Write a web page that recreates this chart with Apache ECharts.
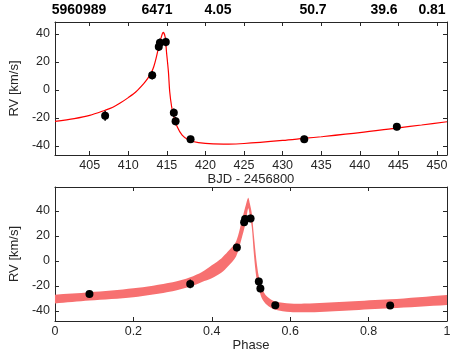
<!DOCTYPE html>
<html>
<head>
<meta charset="utf-8">
<script src="https://cdn.jsdelivr.net/npm/echarts@6/dist/echarts.min.js"></script>
<style>
  html, body { margin: 0; padding: 0; background: #fff; }
  #chart { width: 471px; height: 353px; }
</style>
</head>
<body>
<div id="chart"></div>
<script>
// header numbers above the top panel
const headerValues = ['5960989', '6471', '4.05', '50.7', '39.6', '0.81'];

// tick labels
const bjdTicks = [405, 410, 415, 420, 425, 430, 435, 440, 445, 450];
const rvTicks = [-40, -20, 0, 20, 40];
const phaseTicks = [0, 0.2, 0.4, 0.6, 0.8, 1];

// observed RV (time domain)
const bjdObs = [407.0, 413.1, 413.95, 414.1, 414.86, 415.9, 416.13, 418.07, 432.8, 444.8];
const rvObs = [-18.4, 10.5, 30.8, 33.6, 34.2, -16.3, -22.3, -35.2, -35.2, -26.2];
const rvErr = [3.5, 3, 3, 3, 3, 3, 3, 2.5, 2.5, 2.5];

// observed RV (phase folded)
const phaseObs = [0.088, 0.345, 0.464, 0.4825, 0.485, 0.499, 0.52, 0.524, 0.562, 0.855];
const rvPhaseObs = [-26.4, -18.4, 10.6, 30.9, 33.4, 33.9, -16.5, -22.0, -35.4, -35.7];
const rvPhaseErr = [2.5, 3.5, 3, 3, 3, 3, 3, 3, 2.5, 2.5];

// best-fit curve
const modelBjd = [400.5, 403, 405, 407, 408, 409, 410, 411, 412, 412.5, 413, 413.3, 413.6, 414.0, 414.27, 414.52,
  414.77, 414.95, 415.2, 415.37, 415.62, 415.9, 416.34, 416.98, 417.82, 419.1, 421, 423, 425, 430, 433, 435, 440, 445, 448, 451.3];
const modelRv = [-22.5, -20.5, -18.2, -14.5, -12.4, -9.2, -5.5, -1.3, 4.5, 8.0, 12.5, 16.5, 22.5, 32.0, 37.4, 41.0,
  37.9, 27.2, 13.0, -1.3, -12.0, -19.0, -26.2, -32.2, -35.7, -37.6, -38.5, -38.6, -38.2, -36.0, -34.4, -33.4, -30.5, -27.0, -25.0, -22.7];

// posterior band
const bandPhase = [0, 0.088, 0.2, 0.3, 0.345, 0.375, 0.4, 0.425, 0.441, 0.462, 0.478, 0.487, 0.493, 0.497, 0.502,
  0.5075, 0.514, 0.52, 0.528, 0.541, 0.562, 0.6, 0.65, 0.7, 0.75, 0.855, 1];
const bandLow = [-34.0, -31.7, -29.1, -24.3, -20.5, -16.8, -13.9, -9.3, -4.5, 3.5, 20.0, 31.5, 42.0, 36.0, 27.0,
  5.0, -14.0, -22.0, -30.0, -35.2, -39.0, -40.8, -41.0, -40.4, -39.6, -37.9, -35.2];
const bandHigh = [-27.0, -25.1, -21.9, -17.0, -13.0, -8.8, -3.5, 2.2, 7.4, 15.5, 34.0, 44.8, 50.5, 46.0, 38.0,
  20.0, 0.0, -12.5, -22.0, -28.5, -32.5, -34.0, -34.0, -33.3, -32.4, -30.7, -27.2];

const axisColor = '#262626';
const font = 'Liberation Sans, Helvetica, Arial, sans-serif';

function zip(a, b) { return a.map((v, i) => [v, b[i]]); }
function zip3(a, b, c) { return a.map((v, i) => [v, b[i], c[i]]); }

function errBar(params, api) {
  const x = api.value(0), y = api.value(1), e = api.value(2);
  const p1 = api.coord([x, y - e]);
  const p2 = api.coord([x, y + e]);
  return {
    type: 'line',
    shape: { x1: p1[0], y1: p1[1], x2: p2[0], y2: p2[1] },
    style: { stroke: '#000', lineWidth: 1.5 }
  };
}

// whole band drawn once, as one smoothed polygon (lower edge out, upper edge back)
function bandShape(params, api) {
  if (params.dataIndexInside !== 0) return null;
  const n = params.dataInsideLength;
  const lo = [], hi = [];
  for (let i = 0; i < n; i++) {
    const x = api.value(0, i);
    lo.push(api.coord([x, api.value(1, i)]));
    hi.push(api.coord([x, api.value(2, i)]));
  }
  hi.reverse();
  // repeat the corner points so the ends stay square
  const pts = [lo[0]].concat(lo, [lo[n - 1]], [hi[0]], hi, [hi[n - 1]]);
  return {
    type: 'polygon',
    shape: { points: pts, smooth: 0.3 },
    style: { fill: '#f77070', stroke: null }
  };
}

function xAx(grid, min, max, ticks, pos, name) {
  const a = {
    gridIndex: grid, type: 'value', min: min, max: max, position: pos,
    axisLine: { show: true, onZero: false, lineStyle: { color: axisColor, width: 1 } },
    axisTick: { show: true, inside: true, length: 4, customValues: ticks, lineStyle: { color: axisColor } },
    axisLabel: { show: pos === 'bottom', customValues: ticks, margin: 4, color: axisColor, fontSize: 12.5, fontFamily: font },
    splitLine: { show: false }
  };
  if (name) {
    a.name = name;
    a.nameLocation = 'middle';
    a.nameGap = 17;
    a.nameTextStyle = { color: axisColor, fontSize: 13, fontFamily: font };
  }
  return a;
}

function yAx(grid, min, max, pos) {
  const a = {
    gridIndex: grid, type: 'value', min: min, max: max, position: pos,
    axisLine: { show: true, onZero: false, lineStyle: { color: axisColor, width: 1 } },
    axisTick: { show: true, inside: true, length: 4, customValues: rvTicks, lineStyle: { color: axisColor } },
    axisLabel: { show: pos === 'left', customValues: rvTicks, margin: 5, color: axisColor, fontSize: 12.5, fontFamily: font },
    splitLine: { show: false }
  };
  if (pos === 'left') {
    a.name = 'RV [km/s]';
    a.nameLocation = 'middle';
    a.nameGap = 25;
    a.nameTextStyle = { color: axisColor, fontSize: 13, fontFamily: font };
  }
  return a;
}

const headerX = [79, 157, 218, 313, 384, 432];

const chart = echarts.init(document.getElementById('chart'), null, { renderer: 'canvas' });
const option = {
  animation: false,
  backgroundColor: '#fff',
  grid: [
    { left: 47, top: 22, width: 400, height: 133 },
    { left: 47, top: 187, width: 400, height: 134 }
  ],
  graphic: headerValues.map((t, i) => ({
    type: 'text', x: headerX[i], y: 10,
    style: { text: t, fontSize: 14, fontWeight: 'bold', fontFamily: font, fill: '#000', align: 'center', verticalAlign: 'middle' }
  })),
  xAxis: [
    xAx(0, 400.5, 451.3, bjdTicks, 'bottom', 'BJD - 2456800'),
    xAx(0, 400.5, 451.3, bjdTicks, 'top'),
    xAx(1, 0, 1, phaseTicks, 'bottom', 'Phase'),
    xAx(1, 0, 1, phaseTicks, 'top')
  ],
  yAxis: [
    yAx(0, -46.4, 48.4, 'left'),
    yAx(0, -46.4, 48.4, 'right'),
    yAx(1, -48, 59, 'left'),
    yAx(1, -48, 59, 'right')
  ],
  series: [
    {
      type: 'line', xAxisIndex: 0, yAxisIndex: 0, data: zip(modelBjd, modelRv),
      smooth: 0.3, showSymbol: false, lineStyle: { color: '#ff0000', width: 1.2 }, z: 2
    },
    {
      type: 'custom', xAxisIndex: 0, yAxisIndex: 0, data: zip3(bjdObs, rvObs, rvErr),
      renderItem: errBar, encode: { x: 0, y: 1 }, z: 3
    },
    {
      type: 'scatter', xAxisIndex: 0, yAxisIndex: 0, data: zip(bjdObs, rvObs),
      symbolSize: 8, itemStyle: { color: '#000', opacity: 1 }, z: 4
    },
    {
      type: 'custom', xAxisIndex: 2, yAxisIndex: 2, data: zip3(bandPhase, bandLow, bandHigh),
      renderItem: bandShape, encode: { x: 0, y: [1, 2] }, clip: true, z: 1
    },
    {
      type: 'custom', xAxisIndex: 2, yAxisIndex: 2, data: zip3(phaseObs, rvPhaseObs, rvPhaseErr),
      renderItem: errBar, encode: { x: 0, y: 1 }, z: 3
    },
    {
      type: 'scatter', xAxisIndex: 2, yAxisIndex: 2, data: zip(phaseObs, rvPhaseObs),
      symbolSize: 8, itemStyle: { color: '#000', opacity: 1 }, z: 4
    }
  ]
};
chart.setOption(option);
</script>
</body>
</html>
